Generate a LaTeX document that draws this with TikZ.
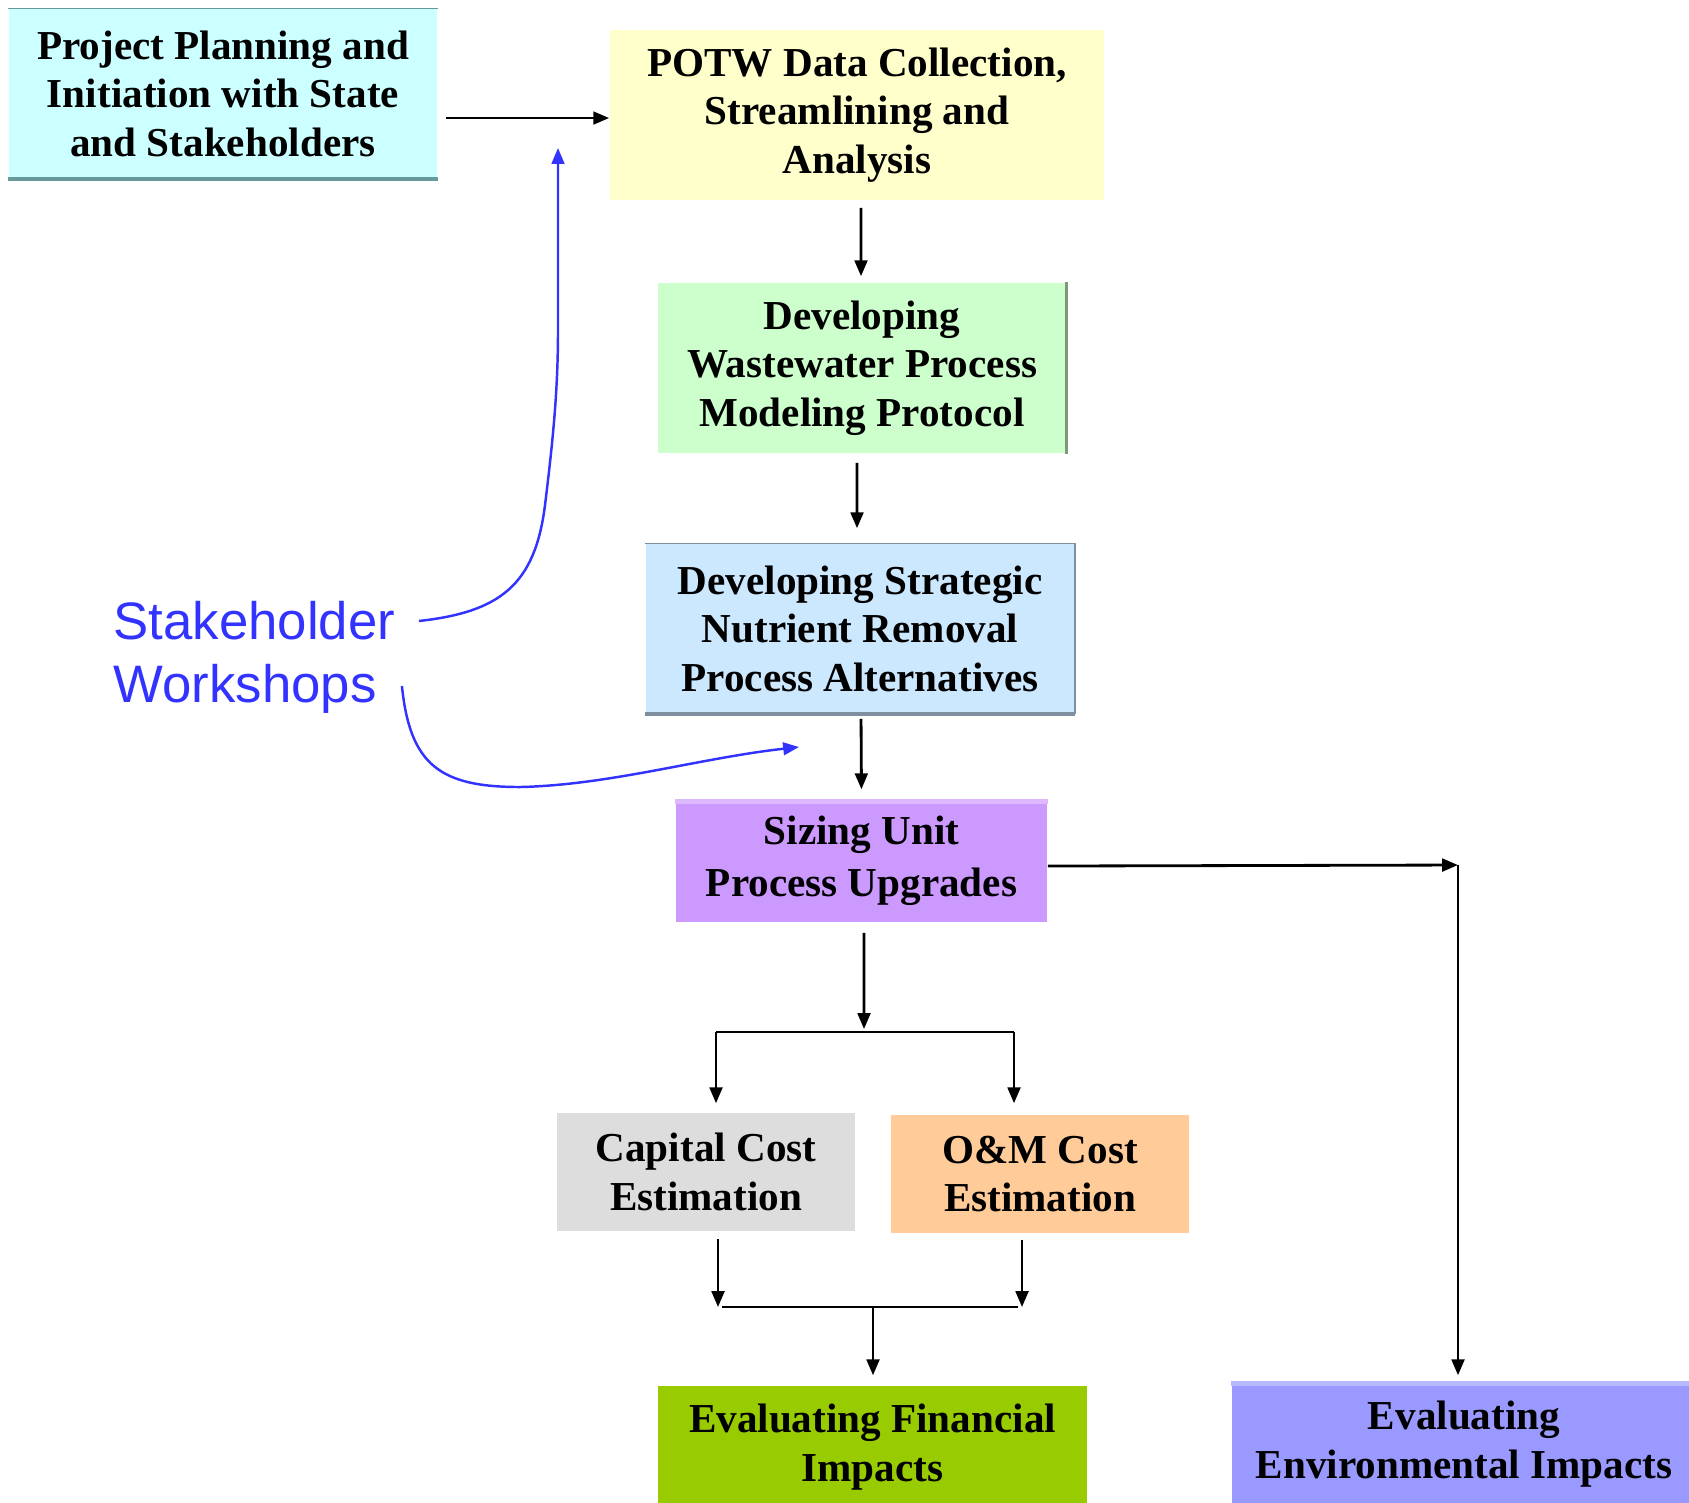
\documentclass[tikz,border=0pt]{standalone}
\usepackage{fontspec}
\setmainfont{Liberation Serif}
\newfontfamily\wsfont{Liberation Sans}
\usetikzlibrary{arrows.meta}

\definecolor{plancyan}{HTML}{CCFFFF}
\definecolor{planedge}{HTML}{669999}
\definecolor{potwyellow}{HTML}{FFFFCC}
\definecolor{modelgreen}{HTML}{CCFFCC}
\definecolor{modeledge}{HTML}{7A9A7A}
\definecolor{altblue}{HTML}{CCE8FF}
\definecolor{altedge}{HTML}{7F8F9F}
\definecolor{sizepurple}{HTML}{CC99FF}
\definecolor{sizetop}{HTML}{DDB8FF}
\definecolor{capgray}{HTML}{DDDDDD}
\definecolor{omorange}{HTML}{FFCC99}
\definecolor{finolive}{HTML}{99CC00}
\definecolor{envblue}{HTML}{9999FF}
\definecolor{envtop}{HTML}{B8B8FF}
\definecolor{wsblue}{HTML}{3333FF}

\begin{document}
\begin{tikzpicture}[x=0.01cm, y=-0.01cm,
		box/.style={inner sep=0pt, align=center, font=\bfseries\fontsize{11.7}{13.8}\selectfont},
		arr/.style={-{Triangle[length=4.5pt,width=3.6pt]}, line width=0.8pt},
		wsline/.style={draw=wsblue, line width=0.7pt, -{Triangle[length=4.5pt,width=3.6pt]}}
		]
	\useasboundingbox (0,0) rectangle (1689,1502);
	\clip (0,0) rectangle (1689,1502);

	% process steps
	\node [box, fill=plancyan, minimum width=4.28cm, minimum height=1.69cm] (plan) at (223,93.5) {Project Planning and\\Initiation with State\\and Stakeholders};
	\node [box, fill=potwyellow, minimum width=4.94cm, minimum height=1.70cm] (potw) at (857,115) {POTW Data Collection,\\Streamlining and\\Analysis};
	\node [box, fill=modelgreen, minimum width=4.08cm, minimum height=1.70cm] (model) at (862,368) {Developing\\Wastewater Process\\Modeling Protocol};
	\node [box, fill=altblue, minimum width=4.28cm, minimum height=1.69cm] (alt) at (860,628.5) {Developing Strategic\\Nutrient Removal\\Process Alternatives};
	\node [box, fill=sizepurple, minimum width=3.71cm, minimum height=1.22cm, font=\bfseries\fontsize{11.7}{14.8}\selectfont] (size) at (861.5,861) {Sizing Unit\\Process Upgrades};
	\node [box, fill=capgray, minimum width=2.98cm, minimum height=1.18cm] (capital) at (706,1172) {Capital Cost\\Estimation};
	\node [box, fill=omorange, minimum width=2.98cm, minimum height=1.18cm] (om) at (1040,1174) {O\&M Cost\\Estimation};
	\node [box, fill=finolive, minimum width=4.29cm, minimum height=1.22cm] (fin) at (872.5,1447) {Evaluating Financial\\Impacts};
	\node [box, fill=envblue, minimum width=4.64cm, minimum height=1.24cm] (env) at (1464,1444) {Evaluating\\Environmental Impacts};

	% box edges
	\draw [planedge, line width=0.3pt] (plan.north west) -- (plan.north east);
	\draw [planedge, line width=1pt] (plan.south west) -- (plan.south east);
	\draw [modeledge, line width=0.8pt] (model.north east) -- (model.south east);
	\draw [altedge, line width=0.4pt] (alt.north west) -- (alt.north east) -- (alt.south east);
	\draw [altedge, line width=1pt] (alt.south west) -- (alt.south east);
	\draw [sizetop, line width=1.2pt] ([yshift=-0.6pt]size.north west) -- ([yshift=-0.6pt]size.north east);
	\draw [envtop, line width=1.4pt] ([yshift=-0.7pt]env.north west) -- ([yshift=-0.7pt]env.north east);

	% main flow
	\coordinate (planout) at ([xshift=0.08cm,yshift=-0.245cm]plan.east);
	\draw [arr] (planout) -- (planout -| potw.west);
	\draw [arr, shorten <=0.07cm, shorten >=0.06cm] ([xshift=0.04cm]potw.south) -- ([xshift=-0.01cm]model.north);
	\draw [arr, shorten <=0.09cm, shorten >=0.15cm] ([xshift=-0.05cm]model.south) -- ([xshift=-0.03cm]alt.north);
	\draw [arr, shorten <=0.05cm, shorten >=0.10cm] ([xshift=0.01cm]alt.south) -- (size.north);

	% split to cost estimates
	\coordinate (split) at (864,1032);
	\coordinate (splitL) at (716,1032);
	\coordinate (splitR) at (1014,1032);
	\draw [arr, shorten <=0.10cm, shorten >=0.03cm] ([xshift=0.025cm]size.south) -- (split);
	\draw [line width=0.8pt] (splitL) -- (splitR);
	\draw [arr, shorten >=0.09cm] (splitL) -- (splitL |- capital.north);
	\draw [arr, shorten >=0.11cm] (splitR) -- (splitR |- om.north);

	% join to financial impacts
	\coordinate (joinL) at (718,1307);
	\coordinate (joinR) at (1022,1307);
	\coordinate (join) at (873,1307);
	\draw [arr, shorten <=0.07cm] (joinL |- capital.south) -- (joinL);
	\draw [arr, shorten <=0.06cm] (joinR |- om.south) -- (joinR);
	\draw [line width=0.8pt] ([xshift=0.04cm]joinL) -- ([xshift=-0.04cm]joinR);
	\draw [arr, shorten >=0.10cm] (join) -- (join |- fin.north);

	% environmental branch
	\coordinate (corner) at (1458,865);
	\draw [arr] ([yshift=-0.05cm]size.east) -- (corner);
	\draw [arr, shorten >=0.06cm] (corner) -- (corner |- env.north);

	% stakeholder workshops
	\node [font=\wsfont\fontsize{15}{18}\selectfont, text=wsblue, align=left, inner sep=0pt, anchor=west] (ws) at (113,657) {Stakeholder\\Workshops};
	\coordinate (wsup) at (558,148);
	\coordinate (wsdown) at (799,747);
	\draw [wsline] ([xshift=0.23cm,yshift=0.36cm]ws.east) .. controls (500,612) and (535,585) .. (545,505) .. controls (553,440) and (558,390) .. (558,330) -- (wsup);
	\draw [wsline] ([xshift=0.06cm,yshift=-0.29cm]ws.east) .. controls (410,765) and (440,787) .. (520,787) .. controls (610,785) and (700,758) .. (wsdown);
\end{tikzpicture}
\end{document}
